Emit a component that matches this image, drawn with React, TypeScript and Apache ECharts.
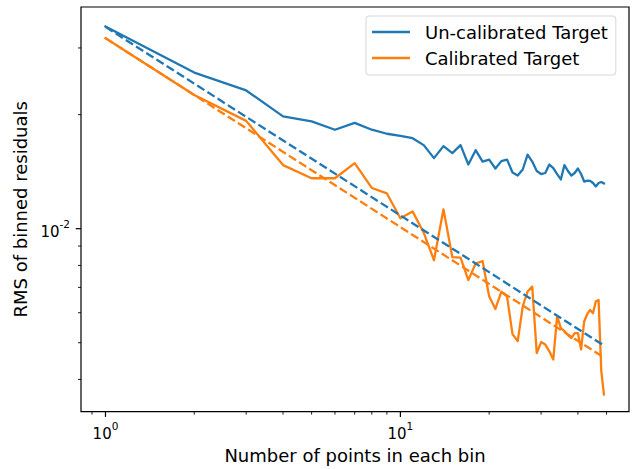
import React, { useEffect, useRef } from "react";
import * as echarts from "echarts";

// Number of points in each bin
const binSizes = [
  1, 2, 3, 4, 5, 6, 7, 8, 9, 10, 11, 12, 13, 14, 15, 16, 17, 18, 19, 20, 21, 22, 23, 24, 25,
  26, 27, 28, 29, 30, 31, 32, 33, 34, 35, 36, 37, 38, 39, 40, 41, 42, 43, 44, 45, 46, 47, 48, 49,
];

// RMS of binned residuals, un-calibrated target
const uncalibrated = [
  0.03420, 0.02583, 0.02317, 0.01980, 0.01920, 0.01825, 0.01903, 0.01825, 0.01781, 0.01759,
  0.01733, 0.01662, 0.01536, 0.01652, 0.01583, 0.01662, 0.01477, 0.01612, 0.01504, 0.01522,
  0.01442, 0.01508, 0.01522, 0.01407, 0.01382, 0.01433, 0.01569, 0.01504, 0.01420, 0.01394,
  0.01403, 0.01477, 0.01446, 0.01394, 0.01349, 0.01472, 0.01420, 0.01382, 0.01403, 0.01442,
  0.01394, 0.01332, 0.01340, 0.01337, 0.01320, 0.01293, 0.01320, 0.01328, 0.01316,
];

// RMS of binned residuals, calibrated target
const calibrated = [
  0.03185, 0.02254, 0.01926, 0.01472, 0.01359, 0.01359, 0.01490, 0.01281, 0.01239, 0.01066,
  0.01111, 0.00976, 0.008255, 0.01125, 0.008418, 0.008392, 0.007317, 0.008092, 0.008207, 0.006632,
  0.006140, 0.006824, 0.006620, 0.005269, 0.005050, 0.006241, 0.006824, 0.007031, 0.004697, 0.005020,
  0.004945, 0.004746, 0.004517, 0.005875, 0.005464, 0.005366, 0.005238, 0.005144, 0.005302, 0.005302,
  0.004799, 0.005690, 0.005947, 0.006103, 0.005983, 0.006435, 0.006485, 0.004213, 0.003651,
];

// Reference (dashed) lines: end points
const fitN = [1, 49];
const uncalibratedFit = [0.0341, 0.004915];
const calibratedFit = [0.03185, 0.004571];

// Axis ranges
const X_MIN = 0.826;
const X_MAX = 59.6;
const Y_MIN = 0.00329;
const Y_MAX = 0.03848;

// Tick positions
const xMajorTicks = [1, 10];
const xMinorTicks = [0.9, 2, 3, 4, 5, 6, 7, 8, 9, 20, 30, 40, 50];
const yMajorTicks = [0.01];
const yMinorTicks = [0.004, 0.005, 0.006, 0.007, 0.008, 0.009, 0.02, 0.03];

const BLUE = "#1f77b4";
const ORANGE = "#ff7f0e";
const FONT = "DejaVu Sans";
const TICK_FS = 15;
const LABEL_FS = 18;
const LW = 2.3;

function powLabel(v: number): string {
  const l = Math.log10(v);
  const r = Math.round(l);
  if (Math.abs(l - r) > 1e-6) return "";
  return "{b|10}{s|" + String(r) + "}";
}

export default function App() {
  const ref = useRef<HTMLDivElement>(null);
  useEffect(() => {
    document.body.style.margin = "0";
    if (!ref.current) return;
    const chart = echarts.init(ref.current, undefined, { renderer: "svg" });

    const tickData: number[][] = [];
    xMajorTicks.forEach((v) => tickData.push([v, Y_MIN, 1, 0]));
    xMinorTicks.forEach((v) => tickData.push([v, Y_MIN, 0, 0]));
    yMajorTicks.forEach((v) => tickData.push([X_MIN, v, 1, 1]));
    yMinorTicks.forEach((v) => tickData.push([X_MIN, v, 0, 1]));

    const richLabel = {
      b: {
        fontSize: TICK_FS,
        fontFamily: FONT,
        color: "#000",
        lineHeight: 21,
        verticalAlign: "bottom",
      },
      s: {
        fontSize: 10.5,
        fontFamily: FONT,
        color: "#000",
        lineHeight: 12,
        verticalAlign: "top",
      },
    };

    const solidLine = (color: string) => ({
      color,
      width: LW,
      join: "round",
      cap: "square",
    });

    chart.setOption({
      animation: false,
      textStyle: { fontFamily: FONT },
      grid: {
        left: 81,
        right: 4,
        top: 7,
        bottom: 55,
        show: true,
        borderColor: "#000",
        borderWidth: 1.2,
        backgroundColor: "#fff",
      },
      legend: {
        orient: "vertical",
        left: 366,
        top: 16,
        padding: [5.5, 8, 6.5, 6],
        itemGap: 5,
        itemWidth: 38,
        itemHeight: 2.3,
        icon: "rect",
        backgroundColor: "#fff",
        borderColor: "#d6d6d6",
        borderWidth: 1,
        borderRadius: 3,
        data: ["Un-calibrated Target", "Calibrated Target"],
        textStyle: {
          fontFamily: FONT,
          fontSize: LABEL_FS,
          color: "#000",
          lineHeight: 21,
          padding: [0, 0, 0, 10],
        },
      },
      xAxis: {
        type: "log",
        logBase: 10,
        min: X_MIN,
        max: X_MAX,
        name: "Number of points in each bin",
        nameLocation: "middle",
        nameGap: 32,
        nameTextStyle: { fontFamily: FONT, fontSize: LABEL_FS, color: "#000" },
        axisLine: { show: false },
        axisTick: { show: false },
        splitLine: { show: false },
        axisLabel: {
          margin: 8.5,
          showMinLabel: false,
          showMaxLabel: false,
          formatter: (v: number) => powLabel(v),
          rich: richLabel,
        },
      },
      yAxis: {
        type: "log",
        logBase: 10,
        min: Y_MIN,
        max: Y_MAX,
        name: "RMS of binned residuals",
        nameLocation: "middle",
        nameGap: 50,
        nameTextStyle: { fontFamily: FONT, fontSize: LABEL_FS, color: "#000" },
        axisLine: { show: false },
        axisTick: { show: false },
        splitLine: { show: false },
        axisLabel: {
          margin: 11,
          showMinLabel: false,
          showMaxLabel: false,
          formatter: (v: number) => powLabel(v),
          rich: richLabel,
        },
      },
      series: [
        {
          name: "Un-calibrated Target",
          type: "line",
          data: binSizes.map((n, i) => [n, uncalibrated[i]]),
          showSymbol: false,
          symbol: "none",
          color: BLUE,
          lineStyle: solidLine(BLUE),
          z: 3,
        },
        {
          name: "Calibrated Target",
          type: "line",
          data: binSizes.map((n, i) => [n, calibrated[i]]),
          showSymbol: false,
          symbol: "none",
          color: ORANGE,
          lineStyle: solidLine(ORANGE),
          z: 3,
        },
        {
          name: "uncal-fit",
          type: "line",
          data: fitN.map((n, i) => [n, uncalibratedFit[i]]),
          showSymbol: false,
          symbol: "none",
          color: BLUE,
          lineStyle: { color: BLUE, width: LW, type: [8.5, 3.6], cap: "butt" },
          z: 4,
        },
        {
          name: "cal-fit",
          type: "line",
          data: fitN.map((n, i) => [n, calibratedFit[i]]),
          showSymbol: false,
          symbol: "none",
          color: ORANGE,
          lineStyle: { color: ORANGE, width: LW, type: [8.5, 3.6], cap: "butt" },
          z: 4,
        },
        {
          name: "ticks",
          type: "custom",
          silent: true,
          clip: false,
          z: 10,
          data: tickData,
          renderItem: (params: any, api: any) => {
            const x = api.value(0);
            const y = api.value(1);
            const major = api.value(2) === 1;
            const axis = api.value(3);
            const p = api.coord([x, y]);
            const len = major ? 5.3 : 3.0;
            const lw = major ? 1.2 : 0.9;
            const shape =
              axis === 0
                ? { x1: p[0], y1: p[1], x2: p[0], y2: p[1] + len }
                : { x1: p[0] - len, y1: p[1], x2: p[0], y2: p[1] };
            return { type: "line", shape, style: { stroke: "#000", lineWidth: lw } };
          },
        },
      ],
    });
    return () => chart.dispose();
  }, []);
  return <div ref={ref} style={{ width: 633, height: 469 }} />;
}
